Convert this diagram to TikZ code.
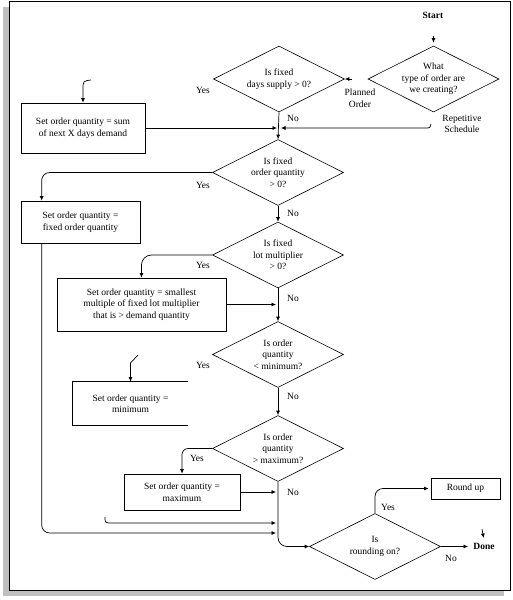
\documentclass[tikz,border=0pt]{standalone}
\usepackage{fontspec}
\setmainfont{Liberation Serif}
\usetikzlibrary{arrows.meta, shapes.geometric}

\begin{document}
\begin{tikzpicture}[x=1pt,y=-1pt,
  font=\fontsize{9.5}{11.5}\selectfont,
  line width=0.7pt,
  arr/.style={-{Latex[length=4.5pt,width=4pt]}},
  decision/.style={draw,diamond,aspect=2,inner sep=0pt,minimum width=131pt,
                   minimum height=66pt,align=center,line width=0.6pt},
  procbox/.style={draw,rectangle,align=center,inner sep=0pt},
  lbl/.style={inner sep=1pt,align=center},
  bold/.style={inner sep=3pt,font=\fontsize{9.5}{11.5}\selectfont\bfseries}]
  \useasboundingbox (0,0) rectangle (512,600);
  \fill[black!25] (3,7) rectangle (504,596);
  \draw[fill=white,line width=1pt] (9,1) rectangle (510,590);

  \node[bold] (start) at (433,15) {Start};
  \node[decision] (dtype) at (433.5,79) {What\\type of order are\\we creating?};
  \node[decision] (dsupply) at (279,79) {Is fixed\\days supply > 0?};
  \node[decision] (dfixed) at (278,172.5) {Is fixed\\order quantity\\> 0?};
  \node[decision] (dlot) at (278,255) {Is fixed\\lot multiplier\\> 0?};
  \node[decision] (dmin) at (278,354.5) {Is order\\quantity\\< minimum?};
  \node[decision] (dmax) at (278,448.5) {Is order\\quantity\\> maximum?};
  \node[decision] (dround) at (375,546.5) {Is\\rounding on?};

  \node[procbox,minimum width=124pt,minimum height=50pt] (bsum) at (83,128)
    {Set order quantity = sum\\of next X days demand};
  \node[procbox,minimum width=119pt,minimum height=42pt] (bfixed) at (80.5,222)
    {Set order quantity =\\fixed order quantity};
  \node[procbox,minimum width=169pt,minimum height=53pt] (blot) at (141.5,304.5)
    {Set order quantity = smallest\\multiple of fixed lot multiplier\\that is > demand quantity};
  \node[procbox,draw=none,minimum width=115pt,minimum height=43pt] (bmin) at (130.5,403.5)
    {Set order quantity =\\minimum};
  \draw (bmin.north east) -- (bmin.north west) -- (bmin.south west) -- (bmin.south east);
  \node[procbox,minimum width=116pt,minimum height=36pt] (bmax) at (182,492)
    {Set order quantity =\\maximum};
  \node[procbox,minimum width=69pt,minimum height=21pt] (bround) at (465.5,488.5) {Round up};
  \node[bold] (done) at (484,546.5) {Done};

  \node[lbl] (planned) at (360,98) {Planned\\Order};
  \node[lbl] (repet) at (462,124) {Repetitive\\Schedule};
  \node[lbl] (yes1) at (203,90) {Yes};
  \node[lbl] (no1) at (293,118) {No};
  \node[lbl] (yes2) at (203,185) {Yes};
  \node[lbl] (no2) at (293,213) {No};
  \node[lbl] (yes3) at (203,265) {Yes};
  \node[lbl] (no3) at (293,298) {No};
  \node[lbl] (yes4) at (203,365) {Yes};
  \node[lbl] (no4) at (293,396) {No};
  \node[lbl] (yes5) at (197,458) {Yes};
  \node[lbl] (no5) at (293,492) {No};
  \node[lbl] (yes6) at (388,507) {Yes};
  \node[lbl] (no6) at (451,558) {No};

  \coordinate (s0) at (433.5,36);
  \coordinate (pl0) at (352,79);
  \coordinate (rep0) at (431,124);
  \coordinate (ys0) at (91,80);
  \coordinate (ym0) at (138,355);
  \coordinate (st1) at (105,517);
  \coordinate (j2) at (278,523);
  \coordinate (j3) at (278,533);
  \coordinate (dn0) at (482,529);

  \draw[arr,shorten >=3pt] (s0) -- (dtype.north);
  \draw[arr] (pl0) -- (dsupply.east);
  \draw[arr] (dsupply.south) -- (dfixed.north);
  \draw[arr,shorten >=2pt] (bsum.east) -- (bsum.east -| dsupply.south);
  \draw[arr,shorten >=2pt] (rep0) .. controls (430,128) .. (425,128) -- (bsum.east -| dsupply.south);
  \draw[arr] (ys0) .. controls (83,81) .. (83,90) -- (bsum.north);
  \draw[arr,rounded corners=8pt] (dfixed.west) -| ([xshift=21pt]bfixed.north west);
  \draw[arr] (dfixed.south) -- (dlot.north);
  \draw[arr,rounded corners=10pt] (dlot.west) -| (blot.north);
  \draw[arr,shorten >=2pt] (blot.east) -- (blot.east -| dlot.south);
  \draw[arr] (dlot.south) -- (dmin.north);
  \draw[arr] (ym0) -- (130.5,363) -- (bmin.north);
  \draw[arr] (dmin.south) -- (dmax.north);
  \draw[arr,rounded corners=6pt] (dmax.west) -| (bmax.north);
  \draw[arr,shorten >=2pt] (bmax.east) -- (bmax.east -| dmax.south);
  \draw[arr,shorten >=2pt] (st1) .. controls (105,523) .. (113,523) -- (j2);
  \draw[arr,rounded corners=8pt,shorten >=2pt] ([xshift=21pt]bfixed.south west) |- (j3);
  \draw[arr,rounded corners=9pt] (dmax.south) |- (dround.west);
  \draw[arr,rounded corners=8pt,shorten >=2pt] (dround.north) |- (bround.west);
  \draw[arr,shorten >=2pt] (dround.east) -- (done.west);
  \draw[arr,shorten >=2pt] (dn0) -- (done.north);
\end{tikzpicture}
\end{document}
